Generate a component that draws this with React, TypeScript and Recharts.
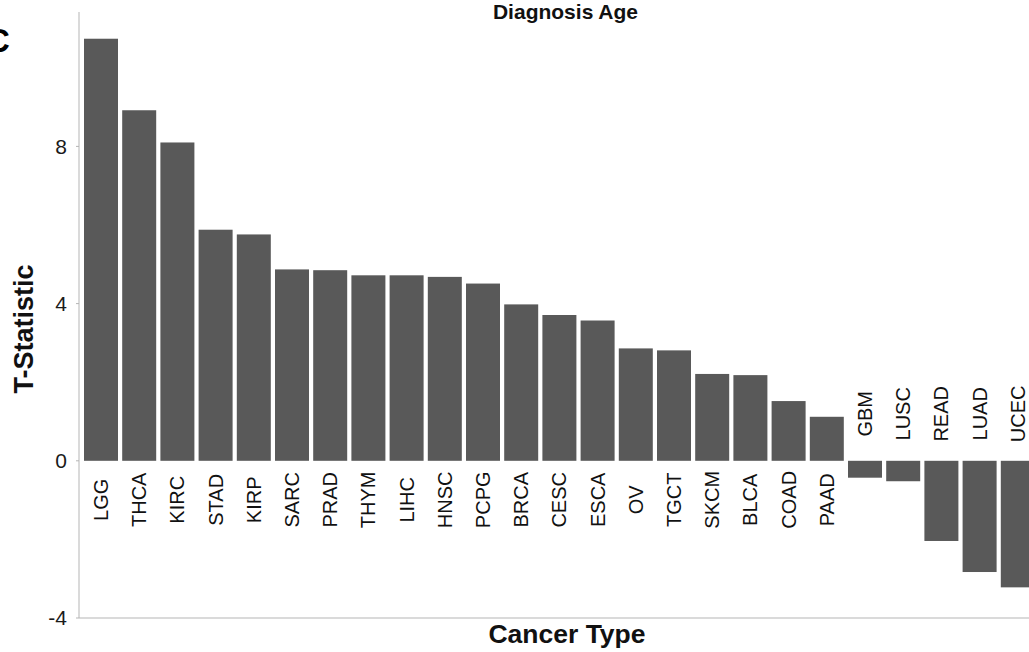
import React from 'react';
import { BarChart, Bar, XAxis, YAxis } from 'recharts';

// Cancer types, ordered by T-statistic for diagnosis age
const cancerTypes = [
  'LGG', 'THCA', 'KIRC', 'STAD', 'KIRP', 'SARC', 'PRAD', 'THYM', 'LIHC', 'HNSC',
  'PCPG', 'BRCA', 'CESC', 'ESCA', 'OV', 'TGCT', 'SKCM', 'BLCA', 'COAD', 'PAAD',
  'GBM', 'LUSC', 'READ', 'LUAD', 'UCEC',
];

const tStatistics = [
  10.74, 8.92, 8.1, 5.88, 5.76, 4.87, 4.85, 4.72, 4.72, 4.68,
  4.51, 3.98, 3.71, 3.57, 2.86, 2.81, 2.21, 2.18, 1.52, 1.12,
  -0.43, -0.52, -2.04, -2.83, -3.22,
];

const yTicks = [-4, 0, 4, 8];

const data = cancerTypes.map((name, i) => ({ name, t: tStatistics[i] }));

const FONT = '"Liberation Sans", Arial, Helvetica, sans-serif';
const BAR_FILL = '#595959';
const AXIS_GREY = '#b5b5b5';

// Bar with its category name written vertically on the other side of zero
const LabeledBar = (props: any) => {
  const { x, y, width, height, payload } = props;
  const value: number = payload.t;
  const top = Math.min(y, y + height);
  const h = Math.abs(height);
  const zero = value >= 0 ? top + h : top;
  const cx = x + width / 2;
  const cy = value >= 0 ? zero + 39 : zero - 47;
  return (
    <g>
      <rect x={x} y={top} width={width} height={h} fill={BAR_FILL} />
      <text
        x={cx}
        y={cy}
        transform={`rotate(-90, ${cx}, ${cy})`}
        textAnchor="middle"
        dominantBaseline="central"
        fontFamily={FONT}
        fontSize={20}
        fill="#111"
      >
        {payload.name}
      </text>
    </g>
  );
};

export default function App() {
  return (
    <div
      style={{
        position: 'absolute',
        left: 0,
        top: 0,
        width: 1029,
        height: 652,
        overflow: 'hidden',
        background: '#fff',
        fontFamily: FONT,
      }}
    >
      <BarChart
        width={1040}
        height={652}
        data={data}
        margin={{ top: 12, right: 0, bottom: 0, left: 0 }}
        barSize={34}
      >
        <XAxis
          dataKey="name"
          tick={false}
          tickLine={false}
          axisLine={{ stroke: AXIS_GREY, strokeWidth: 1 }}
          height={34}
          padding={{ left: 3, right: 3 }}
        />
        <YAxis
          type="number"
          domain={[-4, 11.42]}
          ticks={yTicks}
          width={79}
          tickSize={3}
          tickMargin={9}
          axisLine={{ stroke: AXIS_GREY, strokeWidth: 1 }}
          tickLine={{ stroke: AXIS_GREY }}
          tick={{ fontFamily: FONT, fontSize: 21, fill: '#1a1a1a' }}
        />
        <Bar dataKey="t" isAnimationActive={false} shape={LabeledBar} />
      </BarChart>
      <svg
        width={1029}
        height={652}
        style={{ position: 'absolute', left: 0, top: 0, pointerEvents: 'none' }}
      >
        <text x={-14} y={51.5} fontFamily={FONT} fontWeight="bold" fontSize={33} fill="#000">
          C
        </text>
        <text x={565.5} y={19} textAnchor="middle" fontFamily={FONT} fontWeight="bold" fontSize={21} fill="#111">
          Diagnosis Age
        </text>
        <text
          x={33}
          y={329}
          transform="rotate(-90, 33, 329)"
          textAnchor="middle"
          fontFamily={FONT}
          fontWeight="bold"
          fontSize={27}
          fill="#111"
        >
          T-Statistic
        </text>
        <text x={567} y={643} textAnchor="middle" fontFamily={FONT} fontWeight="bold" fontSize={26.5} fill="#111">
          Cancer Type
        </text>
      </svg>
    </div>
  );
}
